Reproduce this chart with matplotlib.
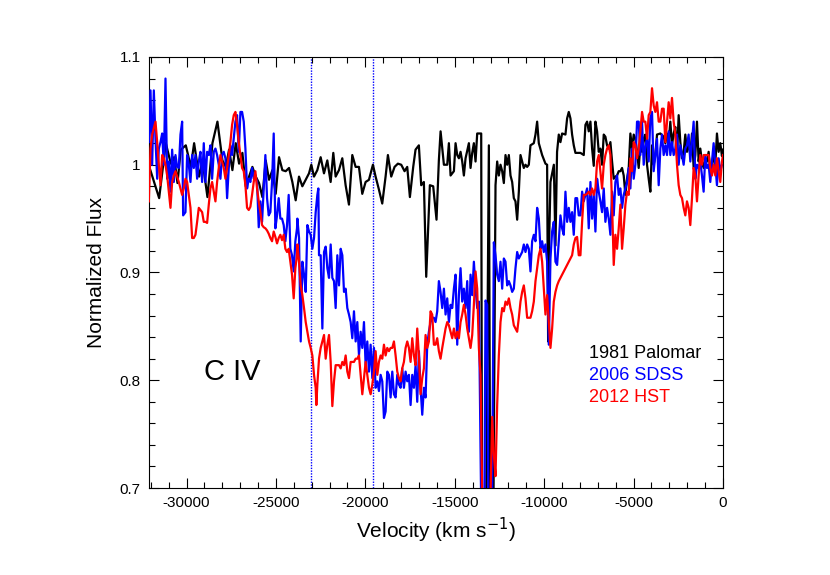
import matplotlib
matplotlib.use("Agg")
import matplotlib.pyplot as plt
from matplotlib.ticker import MultipleLocator, FuncFormatter

plt.rcParams["font.family"] = ["Liberation Sans", "DejaVu Sans"]
plt.rcParams["axes.unicode_minus"] = False

# ---------------------------------------------------------------
# data
# ---------------------------------------------------------------

# 1981 Palomar
palomar_v = [
    -32080, -31531, -31159, -30879, -30693, -30507, -30321, -30041, -29762, -29576,
    -29297, -29110, -28831, -28552, -28272, -27993, -27807, -27621, -27435, -27248,
    -27062, -26876, -26690, -26504, -26317, -26131, -25945, -25759, -25573, -25386,
    -25200, -25014, -24828, -24642, -24455, -24269, -24083, -23897, -23711, -23525,
    -23338, -23152, -23022, -22873, -22687, -22500, -22314, -22128, -21942, -21793,
    -21662, -21476, -21290, -21104, -20918, -20731, -20545, -20359, -20173, -19987,
    -19800, -19577, -19428, -19242, -19056, -18869, -18739, -18553, -18367, -18181,
    -17994, -17808, -17659, -17510, -17324, -17194, -17008, -16877, -16728, -16597,
    -16393, -16207, -16021, -15890,
    -15794, -15608, -15422, -15329, -15235, -15049, -14956, -14863, -14770, -14677,
    -14584, -14491, -14397, -14211, -14118, -14025, -13932, -13839, -13746, -13522,
    -13466, -13280, -13094, -13000, -12870, -12722,
    -12629, -12536, -12443, -12349, -12256, -12163, -12070, -11977, -11884, -11791,
    -11698, -11605, -11511, -11418, -11325, -11232, -11139, -11046, -10953, -10860,
    -10767, -10580, -10487, -10394, -10301, -10115, -9929, -9836, -9780, -9740,
    -9650, -9460, -9370, -9280, -9184, -9091, -8998, -8811, -8718, -8625,
    -8532, -8439, -8346, -8253, -8067,
    -7973, -7787, -7694, -7601, -7508, -7414, -7321, -7228, -7135, -7042,
    -6949, -6856, -6763, -6670, -6577, -6484, -6390, -6297, -6204, -6111,
    -6018, -5925, -5832, -5739, -5646, -5553, -5459, -5366, -5273, -5180,
    -5087, -4994, -4901, -4808, -4715, -4622, -4528, -4435, -4342, -4249,
    -4156, -4063, -3970, -3877, -3784, -3691, -3504, -3318, -3225, -3132,
    -3039, -2946, -2853, -2760, -2666, -2573, -2480, -2387, -2294, -2201,
    -2108, -2015, -1922, -1829, -1735, -1642, -1549, -1456, -1363, -1270,
    -1177, -1084, -991, -898, -804, -711, -618, -525, -432, -339,
    -246, -153, -60, 0,
]
palomar_f = [
    0.998, 0.969, 1.020, 1.001, 1.007, 0.983, 1.014, 1.018, 0.998, 1.020,
    0.989, 1.004, 0.970, 1.020, 1.040, 1.004, 0.998, 1.014, 0.995, 1.020,
    1.001, 1.011, 0.980, 0.989, 0.998, 0.989, 0.983, 0.970, 1.004, 0.986,
    0.995, 0.973, 1.007, 0.995, 0.994, 0.997, 0.984, 0.967, 0.989, 0.980,
    0.986, 0.992, 1.000, 0.989, 0.995, 1.007, 0.992, 1.004, 0.984, 1.011,
    0.989, 0.995, 1.006, 0.981, 0.963, 1.009, 0.998, 0.998, 0.973, 0.984,
    0.986, 1.000, 0.989, 0.977, 0.964, 0.989, 1.009, 0.989, 0.998, 1.001,
    1.000, 0.994, 0.998, 0.970, 0.998, 1.014, 1.018, 0.981, 0.984, 0.896,
    0.981, 0.980, 0.949, 1.004,
    1.031, 1.000, 1.000, 1.020, 0.990, 0.994, 1.020, 1.009, 1.006, 1.012,
    1.003, 0.990, 1.006, 1.020, 0.997, 1.011, 1.020, 1.003, 1.029, 1.029,
    0.600, 0.600, 1.018, 0.600, 0.600, 0.981,
    1.003, 0.990, 1.000, 0.994, 0.983, 1.009, 1.000, 1.009, 0.990, 0.984,
    0.969, 0.966, 0.949, 0.975, 1.009, 1.003, 0.997, 1.000, 0.998, 1.000,
    1.018, 1.020, 1.028, 1.040, 1.020, 1.009, 1.001, 1.000, 0.836, 0.915,
    0.984, 1.000, 0.925, 1.012, 1.028, 1.021, 1.029, 1.028, 1.043, 1.049,
    1.043, 1.028, 1.018, 1.011, 1.011,
    1.011, 1.009, 1.037, 1.040, 1.031, 1.040, 1.015, 0.999, 1.040, 1.031,
    1.012, 1.015, 1.000, 1.028, 1.026, 1.018, 1.015, 1.021, 1.003, 0.987,
    0.989, 0.990, 0.994, 0.994, 0.997, 0.990, 0.972, 0.987, 0.997, 1.029,
    1.015, 1.028, 1.024, 1.012, 0.997, 1.018, 1.012, 1.024, 1.028, 1.000,
    0.987, 0.975, 1.018, 1.000, 1.009, 1.028, 1.029, 1.026, 1.020, 1.029,
    1.021, 1.040, 1.018, 1.029, 1.035, 1.009, 1.046, 1.021, 1.006, 1.012,
    1.028, 1.012, 1.021, 1.009, 1.029, 0.997, 1.009, 1.040, 1.003, 1.015,
    1.003, 0.997, 1.006, 1.003, 1.012, 0.994, 0.997, 1.012, 1.000, 1.029,
    1.012, 1.020, 1.008, 1.014,
]

# 2006 SDSS
sdss_v = [
    -32108, -32015, -31922, -31829, -31736, -31642, -31549, -31456, -31363, -31270,
    -31177, -31084, -30991, -30898, -30805, -30711, -30618, -30525, -30432, -30339,
    -30246, -30190, -30060, -29967, -29874, -29780, -29687, -29594, -29501, -29408,
    -29315, -29222, -29129, -29036, -28943, -28849, -28756, -28663, -28570, -28477,
    -28384, -28291, -28198, -28105, -28012, -27918, -27825, -27732, -27639, -27546,
    -27453, -27360, -27267, -27174, -27081, -26987, -26894, -26801, -26708, -26615,
    -26522, -26429, -26336, -26243, -26150, -26057, -25963, -25870, -25777, -25684,
    -25591, -25498, -25405, -25312, -25219, -25125, -25032, -24939, -24846, -24753,
    -24660, -24567, -24474, -24381, -24288, -24195, -24101, -24008, -23915, -23822,
    -23802, -23709, -23616, -23523, -23430, -23336, -23243, -23150, -23057, -22964,
    -22871, -22778, -22685, -22629, -22592, -22499, -22405, -22312, -22219, -22126,
    -22033, -21940, -21847, -21754, -21661, -21568, -21474, -21381, -21288, -21195,
    -21102, -21009, -20916, -20823, -20730, -20637, -20543, -20450, -20357, -20264,
    -20171, -20078, -19985, -19892, -19799, -19706, -19612, -19519, -19426, -19333,
    -19240, -19147, -19054, -18961, -18868, -18775, -18681, -18588, -18495, -18402,
    -18309, -18216, -18123, -18030, -17937, -17844, -17750, -17657, -17564, -17471,
    -17378, -17285, -17192, -17099, -17006, -16913, -16819, -16726, -16633, -16540,
    -16447, -16354, -16261, -16168, -16075, -15982, -15889, -15796,
    -15701, -15608, -15515, -15422, -15329, -15235, -15142, -15049, -14956, -14863,
    -14770, -14677, -14584, -14491, -14397, -14304, -14211, -14118, -14025, -13932,
    -13839, -13746, -13653, -13466, -13370, -13280, -13187, -13094, -12950, -12815,
    -12722, -12629, -12536, -12443, -12349, -12256, -12163, -12070, -11977, -11884,
    -11791, -11698, -11605, -11511, -11418, -11325, -11232, -11139, -11046, -10953,
    -10860, -10767, -10674, -10580, -10487, -10394, -10301, -10208, -10115, -10022,
    -9929, -9836, -9742, -9649, -9556, -9463, -9370, -9277, -9184, -9091,
    -8998, -8905, -8811, -8718, -8625, -8532, -8439, -8346, -8253, -8160,
    -8067,
    -7973, -7880, -7787, -7694, -7601, -7508, -7414, -7321, -7228, -7135,
    -7042, -6949, -6856, -6763, -6670, -6577, -6484, -6390, -6297, -6204,
    -6111, -6018, -5925, -5832, -5739, -5646, -5553, -5459, -5366, -5273,
    -5180, -5087, -4994, -4901, -4808, -4715, -4622, -4528, -4435, -4342,
    -4249, -4156, -4063, -3970, -3877, -3784, -3691, -3597, -3504, -3411,
    -3318, -3225, -3132, -3039, -2946, -2853, -2760, -2666, -2573, -2480,
    -2387, -2294, -2201, -2108, -2015, -1922, -1829, -1735, -1642, -1549,
    -1456, -1363, -1270, -1177, -1084, -991, -898, -804, -711, -618,
    -525, -432, -339, -246, -153, -60, 0,
]
sdss_f = [
    1.021, 1.069, 1.000, 1.069, 1.024, 0.987, 1.015, 1.021, 1.029, 1.000,
    1.080, 0.987, 1.003, 0.975, 1.014, 0.984, 1.009, 0.998, 0.997, 1.028,
    1.040, 0.953, 0.956, 1.009, 1.000, 0.984, 1.009, 0.997, 1.009, 0.987,
    1.003, 1.012, 0.984, 1.020, 0.984, 1.012, 1.009, 1.018, 0.987, 1.012,
    1.015, 1.009, 1.000, 0.987, 1.009, 1.012, 1.006, 0.969, 0.997, 1.018,
    1.009, 1.024, 1.040, 1.046, 1.012, 1.049, 1.049, 1.040, 1.015, 0.978,
    0.987, 0.984, 0.997, 0.987, 0.990, 0.984, 0.942, 0.966, 0.947, 0.978,
    1.009, 0.969, 0.953, 0.956, 0.984, 1.029, 0.941, 0.953, 0.969, 0.950,
    0.950, 0.944, 0.929, 0.944, 0.972, 0.922, 0.916, 0.901, 0.929, 0.941,
    0.950, 0.932, 0.836, 0.910, 0.898, 0.882, 0.944, 0.938, 0.935, 0.922,
    0.932, 0.956, 0.972, 0.978, 0.916, 0.916, 0.848, 0.919, 0.924, 0.904,
    0.895, 0.926, 0.895, 0.892, 0.867, 0.916, 0.888, 0.922, 0.916, 0.882,
    0.885, 0.867, 0.861, 0.854, 0.839, 0.864, 0.836, 0.854, 0.823, 0.845,
    0.830, 0.854, 0.814, 0.836, 0.808, 0.833, 0.802, 0.830, 0.793, 0.799,
    0.790, 0.805, 0.799, 0.765, 0.771, 0.808, 0.805, 0.784, 0.808, 0.787,
    0.784, 0.805, 0.796, 0.793, 0.811, 0.793, 0.808, 0.799, 0.805, 0.777,
    0.805, 0.793, 0.814, 0.780, 0.827, 0.793, 0.768, 0.793, 0.784, 0.833,
    0.845, 0.854, 0.858, 0.858, 0.854, 0.864, 0.892, 0.882,
    0.867, 0.885, 0.861, 0.876, 0.854, 0.870, 0.867, 0.885, 0.898, 0.833,
    0.879, 0.904, 0.873, 0.885, 0.867, 0.892, 0.845, 0.898, 0.879, 0.910,
    0.885, 0.867, 0.873, 0.600, 0.600, 0.874, 0.870, 0.600, 0.600, 0.928,
    0.916, 0.898, 0.892, 0.910, 0.885, 0.913, 0.910, 0.888, 0.892, 0.888,
    0.882, 0.885, 0.904, 0.919, 0.913, 0.916, 0.919, 0.926, 0.919, 0.926,
    0.922, 0.901, 0.929, 0.935, 0.929, 0.960, 0.950, 0.922, 0.929, 0.919,
    0.926, 0.910, 0.833, 0.913, 0.938, 0.947, 0.910, 0.907, 0.929, 0.953,
    0.941, 0.935, 0.975, 0.947, 0.960, 0.947, 0.956, 0.935, 0.969, 0.969,
    0.953,
    0.953, 0.975, 0.966, 0.972, 0.978, 0.941, 0.984, 0.950, 0.972, 0.938,
    0.987, 0.975, 0.966, 0.956, 0.978, 0.947, 0.960, 0.950, 0.935, 0.975,
    0.953, 0.984, 0.990, 0.972, 0.978, 0.960, 0.972, 0.978, 0.984, 0.997,
    0.978, 1.015, 0.987, 1.000, 1.040, 1.040, 1.009, 1.040, 1.000, 1.018,
    1.024, 1.003, 1.043, 1.049, 0.994, 1.009, 1.024, 0.981, 1.015, 1.028,
    1.009, 1.018, 1.009, 1.031, 1.009, 1.021, 1.009, 1.015, 1.028, 1.000,
    1.018, 1.009, 1.000, 1.015, 1.018, 1.028, 1.003, 1.021, 1.040, 0.987,
    1.000, 0.997, 1.003, 0.990, 0.975, 1.009, 0.997, 1.000, 0.984, 1.003,
    1.020, 1.000, 0.981, 1.006, 0.994, 1.000, 1.000,
]

# 2012 HST
hst_v = [
    -32108, -32015, -31922, -31829, -31736, -31642, -31549, -31456, -31363, -31270,
    -31177, -31084, -30991, -30898, -30805, -30711, -30618, -30525, -30432, -30339,
    -30246, -30153, -30060, -29967, -29874, -29780, -29687, -29594, -29501, -29408,
    -29315, -29222, -29129, -29036, -28943, -28849, -28756, -28663, -28570, -28477,
    -28384, -28291, -28198, -28105, -28012, -27918, -27825, -27732, -27639, -27546,
    -27453, -27360, -27267, -27174, -27081, -26987, -26894, -26801, -26708, -26615,
    -26522, -26429, -26336, -26243, -26150, -26057, -25963, -25870, -25777, -25684,
    -25591, -25498, -25405, -25312, -25219, -25125, -25032, -24939, -24846, -24753,
    -24660, -24567, -24474, -24381, -24288, -24195, -24101, -24008, -23915, -23822,
    -23802, -23709, -23616, -23523, -23430, -23336, -23243, -23150, -23057, -22964,
    -22871, -22778, -22741, -22685, -22592, -22499, -22405, -22312, -22219, -22126,
    -22033, -21940, -21847, -21754, -21661, -21568, -21474, -21381, -21288, -21195,
    -21102, -21009, -20916, -20823, -20730, -20637, -20543, -20450, -20357, -20264,
    -20171, -20078, -19985, -19892, -19799, -19706, -19612, -19519, -19426, -19333,
    -19240, -19147, -19054, -18961, -18868, -18775, -18681, -18588, -18495, -18402,
    -18309, -18216, -18123, -18030, -17937, -17844, -17750, -17657, -17564, -17471,
    -17378, -17285, -17192, -17099, -17006, -16913, -16819, -16726, -16633, -16540,
    -16447, -16354, -16261, -16168, -16075, -15982, -15889, -15796,
    -15701, -15608, -15515, -15422, -15329, -15235, -15142, -15049, -14956, -14863,
    -14770, -14677, -14584, -14491, -14397, -14304, -14211, -14118, -14025, -13932,
    -13839, -13746, -13653, -13560, -13410, -13200, -13094, -12908, -12815, -12722,
    -12629, -12536, -12443, -12349, -12256, -12163, -12070, -11977, -11884, -11791,
    -11698, -11605, -11511, -11418, -11325, -11232, -11139, -11046, -10953, -10860,
    -10767, -10674, -10580, -10487, -10394, -10301, -10208, -10115, -10022, -9929,
    -9836, -9742, -9649, -9556, -9463, -9370, -9277, -9184, -9091, -8998,
    -8905, -8811, -8718, -8625, -8532, -8439, -8346, -8253, -8160, -8067,
    -7973, -7880, -7787, -7694, -7601, -7508, -7414, -7321, -7228, -7135,
    -7042, -6949, -6856, -6763, -6670, -6577, -6484, -6390, -6297, -6204,
    -6111, -6018, -5925, -5832, -5739, -5646, -5553, -5459, -5366, -5273,
    -5180, -5087, -4994, -4901, -4808, -4715, -4622, -4528, -4435, -4342,
    -4249, -4156, -4063, -3970, -3877, -3784, -3691, -3597, -3504, -3411,
    -3318, -3225, -3132, -3039, -2946, -2853, -2760, -2666, -2573, -2480,
    -2387, -2294, -2201, -2108, -2015, -1922, -1829, -1735, -1642, -1549,
    -1456, -1363, -1270, -1177, -1084, -991, -898, -804, -711, -618,
    -525, -432, -339, -246, -153, -60, 0,
]
hst_f = [
    0.966, 1.015, 1.028, 1.034, 1.040, 1.021, 1.000, 0.981, 1.009, 1.006,
    1.000, 0.990, 0.975, 0.960, 0.984, 0.990, 0.994, 0.989, 0.984, 0.978,
    0.972, 0.978, 0.987, 0.984, 0.972, 0.960, 0.932, 0.932, 0.935, 0.947,
    0.960, 0.958, 0.956, 0.947, 0.947, 0.946, 0.963, 0.978, 0.984, 0.975,
    0.966, 0.984, 0.997, 1.009, 1.003, 0.997, 0.987, 0.997, 1.009, 1.021,
    1.037, 1.046, 1.049, 1.037, 1.021, 1.009, 0.997, 0.994, 0.981, 0.960,
    0.958, 0.961, 0.972, 0.984, 0.994, 0.978, 0.966, 0.956, 0.944, 0.942,
    0.941, 0.939, 0.936, 0.932, 0.929, 0.938, 0.933, 0.927, 0.932, 0.935,
    0.930, 0.935, 0.922, 0.919, 0.922, 0.910, 0.898, 0.876, 0.904, 0.916,
    0.926, 0.910, 0.888, 0.879, 0.867, 0.854, 0.845, 0.836, 0.830, 0.823,
    0.805, 0.793, 0.777, 0.796, 0.820, 0.830, 0.836, 0.842, 0.820, 0.833,
    0.842, 0.817, 0.776, 0.799, 0.814, 0.814, 0.814, 0.811, 0.817, 0.814,
    0.823, 0.808, 0.802, 0.817, 0.817, 0.817, 0.820, 0.820, 0.823, 0.805,
    0.787, 0.802, 0.817, 0.805, 0.793, 0.787, 0.796, 0.808, 0.827, 0.805,
    0.817, 0.823, 0.820, 0.833, 0.823, 0.830, 0.827, 0.830, 0.830, 0.836,
    0.823, 0.808, 0.802, 0.799, 0.811, 0.817, 0.830, 0.836, 0.830, 0.817,
    0.839, 0.823, 0.814, 0.848, 0.823, 0.787, 0.802, 0.811, 0.842, 0.830,
    0.836, 0.864, 0.861, 0.833, 0.833, 0.839, 0.827, 0.820,
    0.830, 0.839, 0.848, 0.854, 0.851, 0.845, 0.839, 0.848, 0.839, 0.845,
    0.839, 0.854, 0.861, 0.870, 0.861, 0.848, 0.839, 0.830, 0.842, 0.870,
    0.901, 0.885, 0.830, 0.805, 0.620, 0.620, 0.620, 0.766, 0.731, 0.711,
    0.777, 0.823, 0.854, 0.867, 0.864, 0.873, 0.870, 0.876, 0.867, 0.861,
    0.851, 0.848, 0.845, 0.858, 0.873, 0.882, 0.888, 0.876, 0.858, 0.858,
    0.858, 0.864, 0.873, 0.892, 0.904, 0.916, 0.922, 0.910, 0.885, 0.861,
    0.879, 0.854, 0.830, 0.848, 0.873, 0.882, 0.888, 0.892, 0.895, 0.898,
    0.901, 0.904, 0.907, 0.910, 0.913, 0.916, 0.926, 0.932, 0.933, 0.916,
    0.916, 0.947, 0.972, 0.972, 0.973, 0.975, 0.972, 0.978, 0.972, 0.978,
    1.003, 1.009, 0.994, 0.978, 1.000, 1.009, 1.015, 1.018, 1.009, 0.963,
    0.907, 0.935, 0.922, 0.941, 0.963, 0.922, 0.941, 0.963, 0.975, 0.972,
    1.006, 0.994, 1.021, 1.018, 1.006, 1.015, 1.031, 1.049, 1.040, 1.040,
    1.024, 1.046, 1.049, 1.071, 1.055, 1.049, 1.058, 1.040, 1.040, 1.052,
    1.052, 1.021, 1.040, 1.058, 1.043, 1.062, 1.040, 1.028, 1.000, 0.981,
    0.972, 0.969, 0.960, 0.953, 0.966, 0.960, 0.944, 0.969, 0.997, 0.990,
    0.966, 0.990, 1.009, 1.000, 1.009, 1.009, 1.009, 1.009, 0.997, 0.990,
    1.000, 0.990, 1.006, 0.994, 0.984, 1.003, 1.009,
]

# marked velocities (dotted lines)
marker_v = [-23050, -19550]

labels = ["1981 Palomar", "2006 SDSS", "2012 HST"]
colors = ["black", "#0000ff", "#ff0000"]

# ---------------------------------------------------------------
# plot
# ---------------------------------------------------------------

fig = plt.figure(figsize=(8.3, 5.75), dpi=100)
ax = fig.add_axes([0.1795, 0.1513, 0.6916, 0.7496])

for v in marker_v:
    ax.axvline(v, color="#0000ff", lw=1.0, ls=(0, (1, 1)), zorder=1)

ax.plot(palomar_v, palomar_f, color=colors[0], lw=1.6, zorder=2)
ax.plot(sdss_v, sdss_f, color=colors[1], lw=1.6, zorder=3)
ax.plot(hst_v, hst_f, color=colors[2], lw=1.6, zorder=4)

ax.set_xlim(-32100, 0)
ax.set_ylim(0.7, 1.1)

ax.xaxis.set_major_locator(MultipleLocator(5000))
ax.xaxis.set_minor_locator(MultipleLocator(1000))
ax.yaxis.set_major_locator(MultipleLocator(0.1))
ax.yaxis.set_minor_locator(MultipleLocator(0.02))
ax.yaxis.set_major_formatter(FuncFormatter(lambda y, p: "%g" % round(y, 2)))
ax.xaxis.set_major_formatter(FuncFormatter(lambda x, p: "%d" % x))

ax.tick_params(which="both", direction="in", top=True, right=True, width=0.8)
ax.tick_params(which="major", length=7, labelsize=11, pad=6)
ax.tick_params(which="minor", length=4)
for s in ax.spines.values():
    s.set_linewidth(0.8)

ax.set_xlabel("Velocity (km s$^{-1}$)", fontsize=15, labelpad=4)
ax.set_ylabel("Normalized Flux", fontsize=15, labelpad=10)

ax.text(-29050, 0.808, "C IV", fontsize=21, ha="left", va="center")

for i, (lab, c) in enumerate(zip(labels, colors)):
    ax.text(-7520, 0.825 - 0.0205 * i, lab, color=c, fontsize=13,
            ha="left", va="center")

fig.savefig("out.png", dpi=100)
